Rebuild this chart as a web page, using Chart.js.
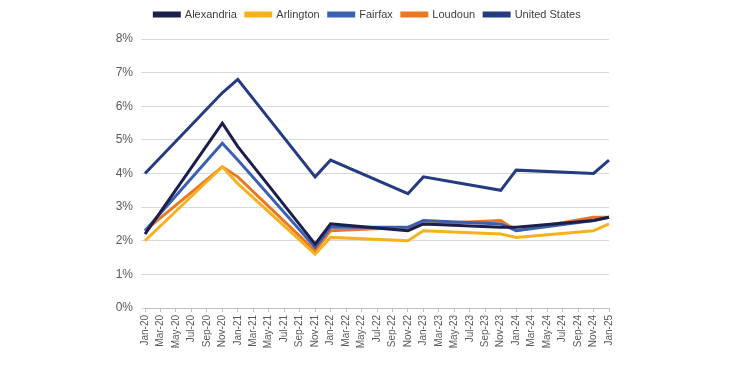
<!DOCTYPE html>
<html><head><meta charset="utf-8">
<script src="https://cdn.jsdelivr.net/npm/chart.js@4"></script>
<style>html,body{margin:0;padding:0;background:#fff}#w{width:741px;height:366px}</style>
</head><body><div id="w"><canvas id="c"></canvas></div>
<script>
const labels = ["Jan-20","Mar-20","May-20","Jul-20","Sep-20","Nov-20","Jan-21","Mar-21","May-21","Jul-21","Sep-21","Nov-21","Jan-22","Mar-22","May-22","Jul-22","Sep-22","Nov-22","Jan-23","Mar-23","May-23","Jul-23","Sep-23","Nov-23","Jan-24","Mar-24","May-24","Jul-24","Sep-24","Nov-24","Jan-25"];
const N = null;
const alexandria = [2.2,N,N,N,N,5.5,4.8,N,N,N,N,1.9,2.5,N,N,N,N,2.3,2.5,N,N,N,N,2.4,2.4,N,N,N,N,2.6,2.7];
const arlington  = [2.0,N,N,N,N,4.2,3.7,N,N,N,N,1.6,2.1,N,N,N,N,2.0,2.3,N,N,N,N,2.2,2.1,N,N,N,N,2.3,2.5];
const fairfax    = [2.3,N,N,N,N,4.9,4.4,N,N,N,N,1.8,2.4,N,N,N,N,2.4,2.6,N,N,N,N,2.5,2.3,N,N,N,N,2.6,2.7];
const loudoun    = [2.3,N,N,N,N,4.2,3.9,N,N,N,N,1.7,2.3,N,N,N,N,2.4,2.5,N,N,N,N,2.6,2.3,N,N,N,N,2.7,2.7];
const unitedStates = [4.0,N,N,N,N,6.4,6.8,N,N,N,N,3.9,4.4,N,N,N,N,3.4,3.9,N,N,N,N,3.5,4.1,N,N,N,N,4.0,4.4];
const yTicks = [0,1,2,3,4,5,6,7,8];

const fam = "'Liberation Sans', Arial, sans-serif";
function ds(label, data, color){
  return {label, data, borderColor:color, backgroundColor:color, borderWidth:3, pointRadius:0, spanGaps:true, tension:0, fill:false};
}
const legendTweak = {
  id:'legendTweak',
  beforeInit(chart){
    const orig = chart.legend.fit;
    chart.legend.fit = function(){ orig.call(this); this.height += 9; };
  },
  afterLayout(chart){
    chart.legend.left += 13; chart.legend.right += 13;
  }
};
new Chart(document.getElementById('c'), {
  type:'line',
  data:{labels, datasets:[
    ds('Alexandria', alexandria, '#1c1f4c'),
    ds('Arlington', arlington, '#f7b11e'),
    ds('Fairfax', fairfax, '#3b60b1'),
    ds('Loudoun', loudoun, '#ea7823'),
    ds('United States', unitedStates, '#253c82')
  ]},
  plugins:[legendTweak],
  options:{
    responsive:true, maintainAspectRatio:false, animation:false,
    layout:{padding:{left:100,right:132,top:0,bottom:0}},
    plugins:{
      tooltip:{enabled:false},
      legend:{position:'top', labels:{boxWidth:25, boxHeight:3, padding:9, color:'#404040', font:{family:fam,size:11}}}
    },
    scales:{
      x:{
        offset:false,
        grid:{drawOnChartArea:false, drawTicks:true, tickLength:4, color:'#bfbfbf'},
        border:{color:'#bfbfbf'},
        ticks:{autoSkip:false, maxRotation:90, minRotation:90, color:'#595959', font:{family:fam,size:10}, padding:3},
        afterFit:(s)=>{s.height=58;}
      },
      y:{
        min:0, max:8,
        afterBuildTicks:(s)=>{s.ticks = yTicks.map(v=>({value:v}));},
        grid:{color:'#d9d9d9', drawTicks:true, tickLength:4, lineWidth:1},
        border:{display:false},
        ticks:{color:'#595959', font:{family:fam,size:12}, padding:8, callback:(v)=>v+'%'},
        afterFit:(s)=>{s.width=45;}
      }
    }
  }
});
</script>
</body></html>
